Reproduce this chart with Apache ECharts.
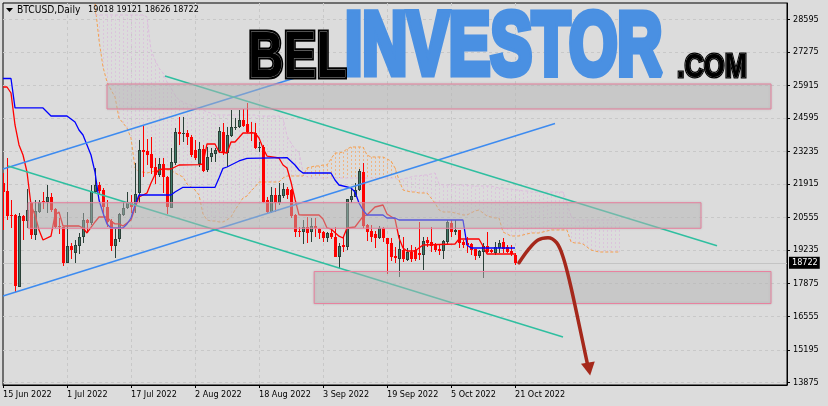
<!DOCTYPE html>
<html>
<head>
<meta charset="utf-8">
<style>html,body{margin:0;padding:0;background:#dcdcdc}#c{width:828px;height:406px}</style>
<script src="https://cdn.jsdelivr.net/npm/echarts@6/dist/echarts.min.js"></script>
</head>
<body>
<div id="c"></div>
<script>
const xLabels = ['15 Jun 2022','1 Jul 2022','17 Jul 2022','2 Aug 2022','18 Aug 2022','3 Sep 2022','19 Sep 2022','5 Oct 2022','21 Oct 2022'];
const yTicks = [28595,27275,25915,24595,23235,21915,20555,19235,17875,16555,15195,13875];
const headerName = 'BTCUSD,Daily';
const headerValues = '19018 19121 18626 18722';
const lastPrice = 18722;
// open, close, low, high
const candles = [
[21944,21606,20051,22349],[21646,20619,20457,22958],[20660,20619,20119,21268],[20660,17780,17551,20687],
[17753,20619,17753,20727],[20619,20430,19646,20660],[20430,20862,20119,21700],[21133,19849,19700,21187],
[19849,20822,19650,21268],[20795,21187,20750,21250],[21210,21187,20900,21606],[21200,21376,20727,21876],
[21376,20862,20800,21538],[20890,20187,20150,20950],[20227,20160,19900,20525],[20187,18700,18592,20187],
[18727,19402,18700,20795],[19416,19240,18862,19511],[19132,19443,18727,19646],[19402,19754,19078,19916],
[19754,20457,19511,20727],[20457,20322,19943,20484],[20349,21633,20254,21876],[21606,21876,21560,22552],
[21876,21633,21500,22011],[21660,20970,20600,21770],[20998,20362,20190,21268],[20430,19416,19213,20500],
[19416,19673,18902,20119],[19673,20687,19578,20727],[20660,20957,20600,21200],[20930,21200,20900,21606],
[21200,20998,20727,21471],[21065,21511,20727,22754],[21538,23295,21132,23700],[23295,23214,22214,24309],
[23268,23092,22687,23727],[23133,22552,22322,23836],[22592,22281,21903,22957],[22281,22727,22187,22957],
[22727,22187,21538,22957],[22187,20997,20700,22222],[20929,22795,20929,23363],[22781,24038,22687,24174],
[24011,23930,23498,24647],[23930,23971,23633,24620],[23971,23809,23500,24106],[23809,23092,23000,23900],
[23295,22957,22900,23700],[22727,23322,22619,23633],[23322,22443,22416,23500],[22484,22998,22416,23430],
[23000,23160,22800,23363],[23133,23295,22822,23363],[23268,24065,23160,24241],[24038,23160,23092,24376],
[23160,23903,22619,24241],[23863,24214,23808,24917],[24214,24230,24106,24579],[24214,24512,24174,24917],
[24512,24282,24241,24944],[24336,24038,23971,25187],[24038,23971,23650,24444],[23998,23363,23322,24376],
[23363,23400,23228,23633],[23431,21200,21133,23500],[21268,20795,20700,21376],[20795,21471,20727,21781],
[21471,21133,20795,21741],[21133,21471,21065,21944],[21430,21714,21350,21944],[21714,21471,21300,21800],
[21673,20619,20550,21700],[20660,19984,19754,20700],[20024,20000,19781,20160],[19984,20160,19484,20457],
[20160,19943,19538,20592],[19984,20214,19578,20524],[20214,20119,19781,20524],[20092,19916,19673,20150],
[19984,19713,19578,20000],[19740,19916,19578,19984],[19943,19754,19673,20051],[19754,18970,18943,20187],
[18970,19416,18497,19510],[19443,19376,19173,19781],[19376,21295,19240,21295],[21268,21430,21133,21700],
[21403,21673,21376,21944],[21673,22457,21650,22512],[22417,20214,20119,22755],[20254,19984,19600,20300],
[20011,19781,19578,20254],[19876,19740,19308,20000],[19713,20119,19673,20214],[20119,19713,19578,20160],
[19713,19484,18254,19713],[19511,18943,18794,19714],[18997,18930,18700,19376],[18875,19267,18159,19849],
[19240,18875,18767,19781],[18835,19173,18808,19308],[19173,18875,18767,19443],[19240,18875,18800,19376],
[19105,19038,18835,20362],[19038,19605,18430,19781],[19646,19511,19376,19781],[19551,19416,19173,20187],
[19443,19240,19146,19511],[19281,19200,19038,19443],[19200,19605,18875,19646],[19578,20390,19443,20457],
[20349,19984,19781,20457],[19984,20051,19849,20457],[20051,19511,19308,20051],[19578,19443,19308,19646],
[19511,19443,19105,19781],[19484,19240,19038,19511],[19267,18997,18835,19267],[18997,19200,18903,19240],
[19173,19403,18119,19538],[19403,19173,19105,19984],[19240,19173,19105,19300],[19105,19349,19038,19578],
[19308,19538,19105,19646],[19578,19267,19105,19714],[19376,19173,19105,19443],[19200,19078,18997,19443],
[19018,18722,18626,19121]
];
const tenkan = [[0,25850],[1,25850],[2,25607],[3,24310],[4,23500],[5,23093],[6,22403],[7,21065],[8,20660],[9,20052],[10,19646],[12,19800],[13,20660],[14,20781],[15,20214],[19,20214],[20,20133],[21,19930],[23,20376],[24,20579],[26,20579],[27,20400],[28,20300],[29,20300],[30,20214],[32,20457],[33,20944],[34,21390],[36,21552],[37,21957],[38,22300],[39,22500],[40,22525],[42,22525],[44,22687],[49,22700],[50,22728],[51,23539],[53,23539],[54,23214],[56,23174],[57,23620],[58,23620],[59,23800],[60,23985],[63,23985],[64,23782],[65,23377],[66,23050],[69,22971],[70,22687],[71,22566],[72,21998],[73,21300],[74,20663],[75,20660],[79,20660],[80,20500],[81,20133],[82,20092],[84,19800],[85,19727],[86,20133],[88,20173],[90,20600],[91,20660],[93,20984],[95,21065],[96,20700],[98,20500],[99,19727],[100,19322],[101,19200],[103,19200],[105,19443],[113,19484],[114,19687],[119,19687],[120,19400],[121,19078],[128,19078]];
const kijun = [[0,26195],[2,26195],[3,25000],[10,25000],[12,24674],[16,24674],[18,24431],[19,24107],[20,23904],[22,23093],[23,22400],[24,21268],[25,20741],[26,20295],[27,20133],[29,20133],[30,20133],[31,20295],[32,20538],[33,21065],[34,21471],[42,21471],[43,21592],[45,21783],[53,21783],[54,22160],[55,22553],[56,22606],[57,22687],[59,22850],[61,22959],[71,22990],[73,22687],[74,22484],[75,22363],[82,22363],[83,22079],[84,21876],[87,21755],[88,21592],[89,21146],[90,20862],[91,20660],[95,20660],[96,20538],[98,20538],[99,20457],[115,20457],[116,19443],[117,19322],[128,19322]];
const cloudStart = 23;
const spanA = [29216,27756,26661,26053,25729,25445,24593,24390,24188,23782,22566,22403,22403,22363,22403,22444,22484,22484,22484,22484,22363,22282,22201,21917,21795,21674,21471,20700,20457,20416,20416,20376,20376,20457,20579,20863,21106,21349,21430,21633,21795,21998,21998,21998,21998,21998,21998,22160,22241,22241,22241,22241,22241,22566,22606,22647,22647,22687,22687,22931,23174,23174,23214,23336,23417,23417,23417,23417,23093,23012,23012,23012,23012,22931,22850,22566,22079,21674,21633,21592,21592,21552,21552,21552,21349,21146,20863,20781,20781,20781,20741,20700,20660,20660,20741,20822,20863,20741,20619,20579,20538,20538,19970,19889,19808,19808,19808,19849,19889,19930,19930,19930,19970,20011,20052,20052,20052,20052,20052,19565,19524,19524,19484,19362,19240,19200,19159,19159,19159,19159,19159,19159];
const spanB = [28770,28770,28770,28770,28770,28770,28770,28770,28770,28770,28770,28770,28770,28689,27350,26945,26621,26418,26053,25810,25526,25323,25242,25161,25120,25080,24999,24918,24836,24796,24715,24715,24715,24715,24715,24715,24715,24715,24715,24715,24715,24674,24674,24674,24674,24674,24674,24593,23863,23579,23336,23214,22403,22201,22160,22160,22160,22160,22160,22160,22160,22160,22160,22160,22160,22160,22160,22160,22160,22160,22160,22160,22160,22160,22160,22160,22079,22119,22160,22201,22241,22241,22282,22282,22322,22363,21917,21876,21876,21876,21876,21876,21876,21876,21836,21836,21836,21836,21836,21836,21795,21755,21755,21714,21714,21674,21674,21633,21633,21592,21592,21592,21592,21592,21592,21592,21592,21592,21146,20619,20457,20457,20457,20457,20457,20457,20457,20457,20457,20457,20457,20457];
const channelBlueTop = [[0,22525],[73.75,26255]];
const channelBlueBottom = [[0,17375],[138,24370]];
const channelTealTop = [[40.5,26296],[178.5,19415]];
const channelTealBottom = [[1.25,22646],[140,15712]];
const arrowPath = [[129,18725],[131.25,19240],[133.75,19646],[136.25,19739],[138.4,19536],[140,18968],[141.75,17902],[143.4,16686],[145,15469],[146.25,14508]];
const arrowTip = [[146.5,14415]];
// [fromIndex, toIndex, topPrice, bottomPrice]
const zones = [[26,192,25971,24958],[6.3,174.5,21158,20120],[77.8,192,18368,17070]];

const uiFont = "'DejaVu Sans Condensed','DejaVu Sans'";
const hatch = spanA.map((a,k)=>[cloudStart+k,a,spanB[k]]);
const trend = (d,color)=>({type:'line',data:d,showSymbol:false,silent:true,z:3,lineStyle:{color,width:1.5}});
const chart = echarts.init(document.getElementById('c'),null,{renderer:'canvas'});
const logo = (text,x,y,size,sx,fill,stroke,lw,extra)=>Object.assign({type:'text',x,y,scaleX:sx,scaleY:1,z:100,silent:true,
  style:{text,fill,stroke,lineWidth:lw,font:`bold ${size}px 'Liberation Sans'`}},extra||{});
const renderCandle = (p,api)=>{
  const i=api.value(0),o=api.value(1),c=api.value(2),l=api.value(3),h=api.value(4);
  const up=c>=o, col=up?'#2f6252':'#ff0000', wick=up?'#2b4038':'#ff0000';
  const x=Math.round(api.coord([i,o])[0]);
  const yo=Math.round(api.coord([i,o])[1]),yc=Math.round(api.coord([i,c])[1]);
  const yl=Math.round(api.coord([i,l])[1]),yh=Math.round(api.coord([i,h])[1]);
  const top=Math.min(yo,yc),ht=Math.max(1,Math.abs(yo-yc));
  const kids=[{type:'rect',shape:{x:x,y:yh,width:1,height:Math.max(1,yl-yh)},style:{fill:wick}},
              {type:'rect',shape:{x:x-1,y:top,width:3,height:ht},style:{fill:wick}}];
  if(up&&ht>2) kids.push({type:'rect',shape:{x:x,y:top+1,width:1,height:ht-2},style:{fill:'#3f7a68'}});
  return {type:'group',children:kids};
};
chart.setOption({
  animation:false,
  backgroundColor:'#dcdcdc',
  title:{text:`{a|${headerName}}{b|   ${headerValues}}`,left:17,top:5,padding:0,textStyle:{fontWeight:'normal',color:'#000',fontFamily:uiFont,
    rich:{a:{fontSize:10.2,color:'#000',fontFamily:uiFont},b:{fontSize:9,color:'#000',fontFamily:uiFont}}}},
  grid:{left:3,right:41,top:3,bottom:21,show:true,borderColor:'#000',borderWidth:1,backgroundColor:'transparent'},
  xAxis:{type:'value',min:0,max:196,interval:8,
    axisLine:{show:true,onZero:false,lineStyle:{color:'#000'}},
    axisTick:{show:true,length:3,lineStyle:{color:'#000'},customValues:xLabels.map((_,i)=>i*16)},
    axisLabel:{show:true,color:'#000',fontSize:9,fontFamily:uiFont,align:'left',margin:5,hideOverlap:false,showMinLabel:true,
      customValues:xLabels.map((_,i)=>i*16),formatter:v=>xLabels[v/16]||''},
    splitLine:{show:true,showMinLine:false,lineStyle:{color:'#c8c8c8',type:[3,3],width:1}}},
  yAxis:{type:'value',position:'right',min:13766,max:29256,scale:true,
    axisLine:{show:true,onZero:false,lineStyle:{color:'#000'}},
    axisTick:{show:true,length:3,lineStyle:{color:'#000'},customValues:yTicks},
    axisLabel:{show:true,color:'#000',fontSize:9,fontFamily:uiFont,margin:6,customValues:yTicks,formatter:v=>String(v)},
    splitLine:{show:false}},
  graphic:[
    {type:'polygon',z:100,silent:true,shape:{points:[[6,8],[13,8],[9.5,12]]},style:{fill:'#000'}},
    logo('INVESTOR',345,5,89,0.7,'#4a90e2','#4a90e2',7),
    logo('BEL',248,27,64,0.77,'#000','#000',5),
    logo('BEL',248,27,64,0.77,'#000','#9a9a9a',0.8,{z:101}),
    logo('.COM',677,51,34,0.79,'#000','#000',3),
    logo('.COM',677,51,34,0.79,'#000','#9a9a9a',0.6,{z:101})
  ],
  series:[
    {type:'line',data:[],silent:true,z:0,markLine:{silent:true,symbol:'none',z:0,animation:false,label:{show:false},
      lineStyle:{color:'#c8c8c8',type:[3,3],width:1},data:yTicks.map(v=>({yAxis:v}))}},
    {type:'custom',silent:true,z:1,clip:true,data:hatch,encode:{x:0,y:[1,2]},
      renderItem:(p,api)=>{
        const a=api.value(1),b=api.value(2);
        const s=api.coord([api.value(0),a]),e=api.coord([api.value(0),b]);
        const x=Math.round(s[0])+0.5;
        return {type:'line',shape:{x1:x,y1:s[1],x2:x,y2:e[1]},style:{stroke:a>b?'#f0b585':'#dcc4dc',lineWidth:1,lineDash:[2,2],fill:null}};
      }},
    {type:'line',data:spanA.map((v,k)=>[cloudStart+k,v]),showSymbol:false,silent:true,z:1,lineStyle:{color:'#f4a050',width:1,type:[3,2]}},
    {type:'line',data:spanB.map((v,k)=>[cloudStart+k,v]),showSymbol:false,silent:true,z:1,lineStyle:{color:'#dcbcdc',width:1,type:[3,2]}},
    {type:'line',data:[],silent:true,z:1,markLine:{silent:true,symbol:'none',z:1,animation:false,lineStyle:{color:'#c4c4c4',type:'solid',width:1},
      data:[{yAxis:lastPrice}],label:{show:true,position:'end',distance:2,formatter:String(lastPrice),color:'#fff',backgroundColor:'#000',fontSize:9,fontFamily:uiFont,padding:[2,2,1,3]}}},
    {type:'custom',data:candles.map((c,i)=>[i,...c]),encode:{x:0,y:[1,2,3,4]},renderItem:renderCandle,silent:true,z:2,clip:true},
    {type:'line',data:tenkan,showSymbol:false,silent:true,z:3,lineStyle:{color:'#ff0000',width:1.3}},
    {type:'line',data:kijun,showSymbol:false,silent:true,z:3,lineStyle:{color:'#0000ff',width:1.3}},
    trend(channelBlueTop,'#3d8bf0'),trend(channelBlueBottom,'#3d8bf0'),
    trend(channelTealTop,'#2fbfa0'),trend(channelTealBottom,'#2fbfa0'),
    {type:'line',data:[],silent:true,z:6,markArea:{silent:true,z:6,animation:false,
      itemStyle:{color:'rgba(190,190,190,0.42)',borderColor:'#e8829f',borderWidth:1,shadowBlur:2,shadowColor:'rgba(120,120,120,0.3)'},
      data:zones.map(z=>[{xAxis:z[0],yAxis:z[2]},{xAxis:z[1],yAxis:z[3]}])}},
    {type:'line',data:arrowPath,smooth:0.35,showSymbol:false,silent:true,z:7,lineStyle:{color:'#a5281b',width:3.5,cap:'round'}},
    {type:'scatter',data:arrowTip,symbol:'triangle',symbolSize:[14,13],symbolRotate:190,silent:true,z:7,itemStyle:{color:'#a5281b',opacity:1}}
  ]
});
</script>
</body>
</html>
